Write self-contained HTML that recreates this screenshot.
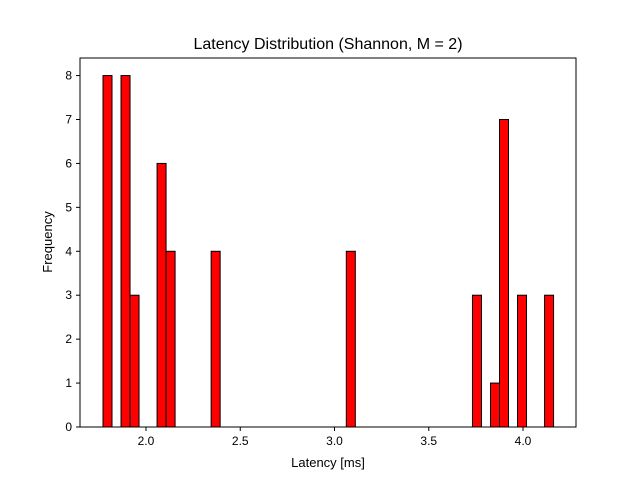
<!DOCTYPE html>
<html><head><meta charset="utf-8"><style>
body{margin:0;background:#fff;font-family:"Liberation Sans","DejaVu Sans",sans-serif}
</style></head><body>
<svg id="chart" width="640" height="480" xmlns="http://www.w3.org/2000/svg">
<rect width="640" height="480" fill="#fff"/>
<text x="328" y="49" text-anchor="middle" font-size="16">Latency Distribution (Shannon, M = 2)</text>
<g id="bars"></g>
<g id="xticks"></g>
<g id="yticks"></g>
<rect x="80" y="58" width="496" height="369" fill="none" stroke="#000" stroke-width="1"/>
<text x="328" y="467" text-anchor="middle" font-size="13">Latency [ms]</text>
<text x="52" y="242" text-anchor="middle" font-size="13" transform="rotate(-90 52 242)">Frequency</text>
</svg>
<script>
const binStart = 1.772;
const binWidth = 0.0478;
const counts = [8,0,8,3,0,0,6,4,0,0,0,0,4,0,0,0,0,0,0,0,0,0,0,0,0,0,0,4,0,0,0,0,0,0,0,0,0,0,0,0,0,3,0,1,7,0,3,0,0,3];
const xTicks = [2.0,2.5,3.0,3.5,4.0];
const xTickLabels = ["2.0","2.5","3.0","3.5","4.0"];
const yTicks = [0,1,2,3,4,5,6,7,8];

const NS="http://www.w3.org/2000/svg";
const xMin=1.650,xMax=4.281,yMax=8.4;
const L=80,R=576,T=58,B=427;
const xs=v=>L+(v-xMin)/(xMax-xMin)*(R-L);
const ys=v=>B-v/yMax*(B-T);
function mk(tag,attrs){const e=document.createElementNS(NS,tag);for(const k in attrs)e.setAttribute(k,attrs[k]);return e;}
const gb=document.getElementById('bars');
counts.forEach((c,i)=>{
  if(c<=0)return;
  const x0=xs(binStart+i*binWidth),x1=xs(binStart+(i+1)*binWidth);
  const r=mk('rect',{x:x0,y:ys(c),width:x1-x0,height:ys(0)-ys(c),fill:'#ff0000',stroke:'#000','stroke-width':1});
  
  
  gb.appendChild(r);
});
const gx=document.getElementById('xticks');
xTicks.forEach((v,i)=>{
  const x=xs(v);
  const l=mk('line',{x1:x,x2:x,y1:B,y2:B+4,stroke:'#000'});
  
  
  gx.appendChild(l);
  const t=mk('text',{x:x,y:B+18,'text-anchor':'middle','font-size':12});
  t.textContent=xTickLabels[i];
  
  
  gx.appendChild(t);
});
const gy=document.getElementById('yticks');
yTicks.forEach(v=>{
  const y=ys(v);
  const l=mk('line',{x1:L-4,x2:L,y1:y,y2:y,stroke:'#000'});
  
  
  gy.appendChild(l);
  const t=mk('text',{x:L-8,y:y+4,'text-anchor':'end','font-size':12});
  t.textContent=String(v);
  
  
  gy.appendChild(t);
});
</script>
</body></html>
